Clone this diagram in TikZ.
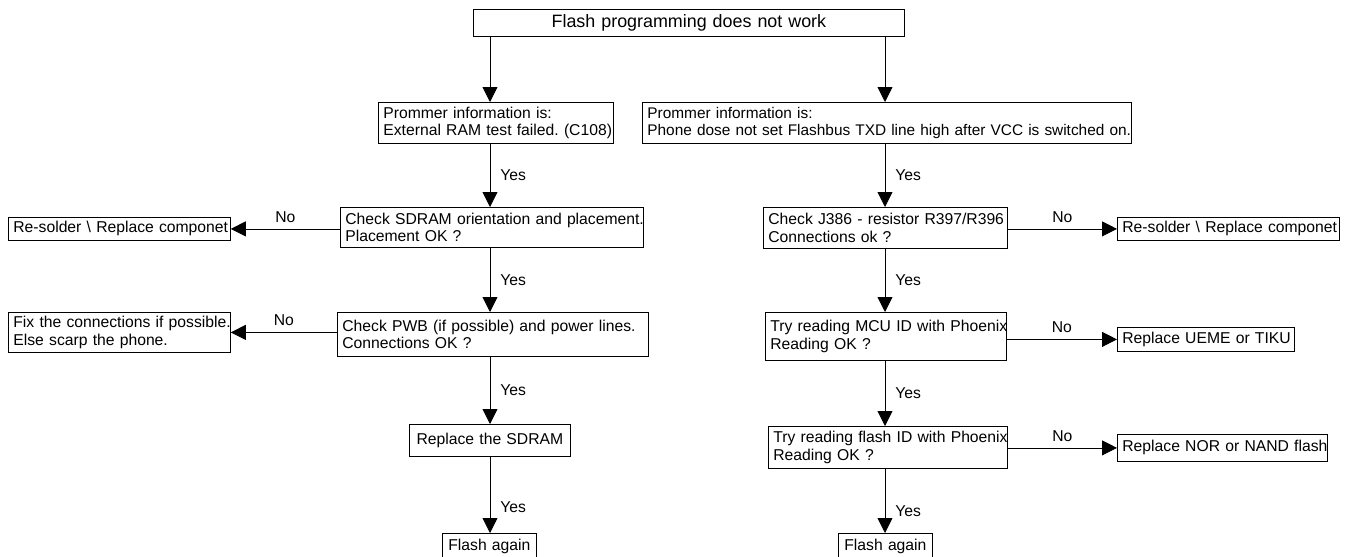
\documentclass[tikz,border=0pt]{standalone}
\usepackage{fontspec}
\setmainfont{Liberation Sans}
\usetikzlibrary{arrows.meta}
\frenchspacing
\begin{document}
\begin{tikzpicture}[x=1pt,y=-1pt,
  line width=0.8pt,
  txt/.style={font=\fontsize{15.7}{17.3}\selectfont},
  box/.style={txt, draw, anchor=north west, align=left, inner xsep=5pt, inner ysep=0pt},
  cbox/.style={box, align=center},
  arr/.style={-{Triangle[length=15pt,width=15pt]}},
  yes/.style={txt, inner sep=0pt, right=10pt},
  no/.style={txt, inner sep=0pt, above=6pt}]
\useasboundingbox (0,0) rectangle (1350,557);
\clip (0,0) rectangle (1350,557);

% column guides for the vertical flow lines
\coordinate (colL) at (490,0);
\coordinate (colR) at (885,0);

% start
\node[cbox, text width=421pt, minimum height=27pt, font=\fontsize{17.9}{19}\selectfont] (top) at (473,9)
  {Flash programming does not work};

% left branch
\node[box, text width=225pt, minimum height=41pt] (p1) at (378,102)
  {\mbox{Prommer information is:}\\\mbox{External RAM test failed. (C108)}};
\node[box, text width=293pt, minimum height=40pt] (c1) at (340,207)
  {\mbox{Check SDRAM orientation and placement.}\\\mbox{Placement OK ?}};
\node[box, text width=212pt, minimum height=23pt] (rs1) at (8,217)
  {\mbox{Re-solder \textbackslash{} Replace componet}};
\node[box, text width=301pt, minimum height=44pt] (pwb) at (337,312)
  {\mbox{Check PWB (if possible) and power lines.}\\\mbox{Connections OK ?}};
\node[box, text width=212pt, minimum height=40pt] (fix) at (8,312)
  {\mbox{Fix the connections if possible.}\\\mbox{Else scarp the phone.}};
\node[cbox, text width=151pt, minimum height=32pt] (rsd) at (409,424)
  {Replace the SDRAM};
\node[cbox, text width=84pt, minimum height=26pt] (fa1) at (442,533)
  {Flash again};

% right branch
\node[box, text width=479pt, minimum height=41pt, font=\fontsize{15.4}{17.3}\selectfont] (p2) at (642,102)
  {\mbox{Prommer information is:}\\\mbox{Phone dose not set Flashbus TXD line high after VCC is switched on.}};
\node[box, text width=234pt, minimum height=41pt] (c2) at (763,207)
  {\mbox{Check J386 - resistor R397/R396}\\\mbox{Connections ok ?}};
\node[box, text width=212pt, minimum height=23pt] (rs2) at (1117,217)
  {\mbox{Re-solder \textbackslash{} Replace componet}};
\node[box, text width=231pt, minimum height=48pt] (mcu) at (765,312)
  {\mbox{Try reading MCU ID with Phoenix}\\\mbox{Reading OK ?}};
\node[box, text width=167pt, minimum height=24pt] (ueme) at (1117,327)
  {\mbox{Replace UEME or TIKU}};
\node[box, text width=229pt, minimum height=42pt] (fid) at (768,426)
  {\mbox{Try reading flash ID with Phoenix}\\\mbox{Reading OK ?}};
\node[box, text width=200pt, minimum height=27pt] (nor) at (1117,434)
  {\mbox{Replace NOR or NAND flash}};
\node[cbox, text width=84pt, minimum height=26pt] (fa2) at (838,533)
  {Flash again};

% left flow
\draw[arr] (top.south -| colL) -- (p1.north -| colL);
\draw[arr] (p1.south -| colL) -- node[yes] {Yes} (c1.north -| colL);
\draw[arr] (c1.south -| colL) -- node[yes] {Yes} (pwb.north -| colL);
\draw[arr] (pwb.south -| colL) -- node[yes] {Yes} (rsd.north -| colL);
\draw[arr] (rsd.south -| colL) -- node[yes, pos=0.66] {Yes} (fa1.north -| colL);
\draw[arr] (rs1.east -| c1.west) -- node[no] {No} (rs1.east);
\draw[arr] (fix.east -| pwb.west) -- node[no] {No} (fix.east);

% right flow
\draw[arr] (top.south -| colR) -- (p2.north -| colR);
\draw[arr] (p2.south -| colR) -- node[yes] {Yes} (c2.north -| colR);
\draw[arr] (c2.south -| colR) -- node[yes] {Yes} (mcu.north -| colR);
\draw[arr] (mcu.south -| colR) -- node[yes] {Yes} (fid.north -| colR);
\draw[arr] (fid.south -| colR) -- node[yes, pos=0.66] {Yes} (fa2.north -| colR);
\draw[arr] (rs2.west -| c2.east) -- node[no] {No} (rs2.west);
\draw[arr] (ueme.west -| mcu.east) -- node[no] {No} (ueme.west);
\draw[arr] (nor.west -| fid.east) -- node[no] {No} (nor.west);
\end{tikzpicture}
\end{document}
